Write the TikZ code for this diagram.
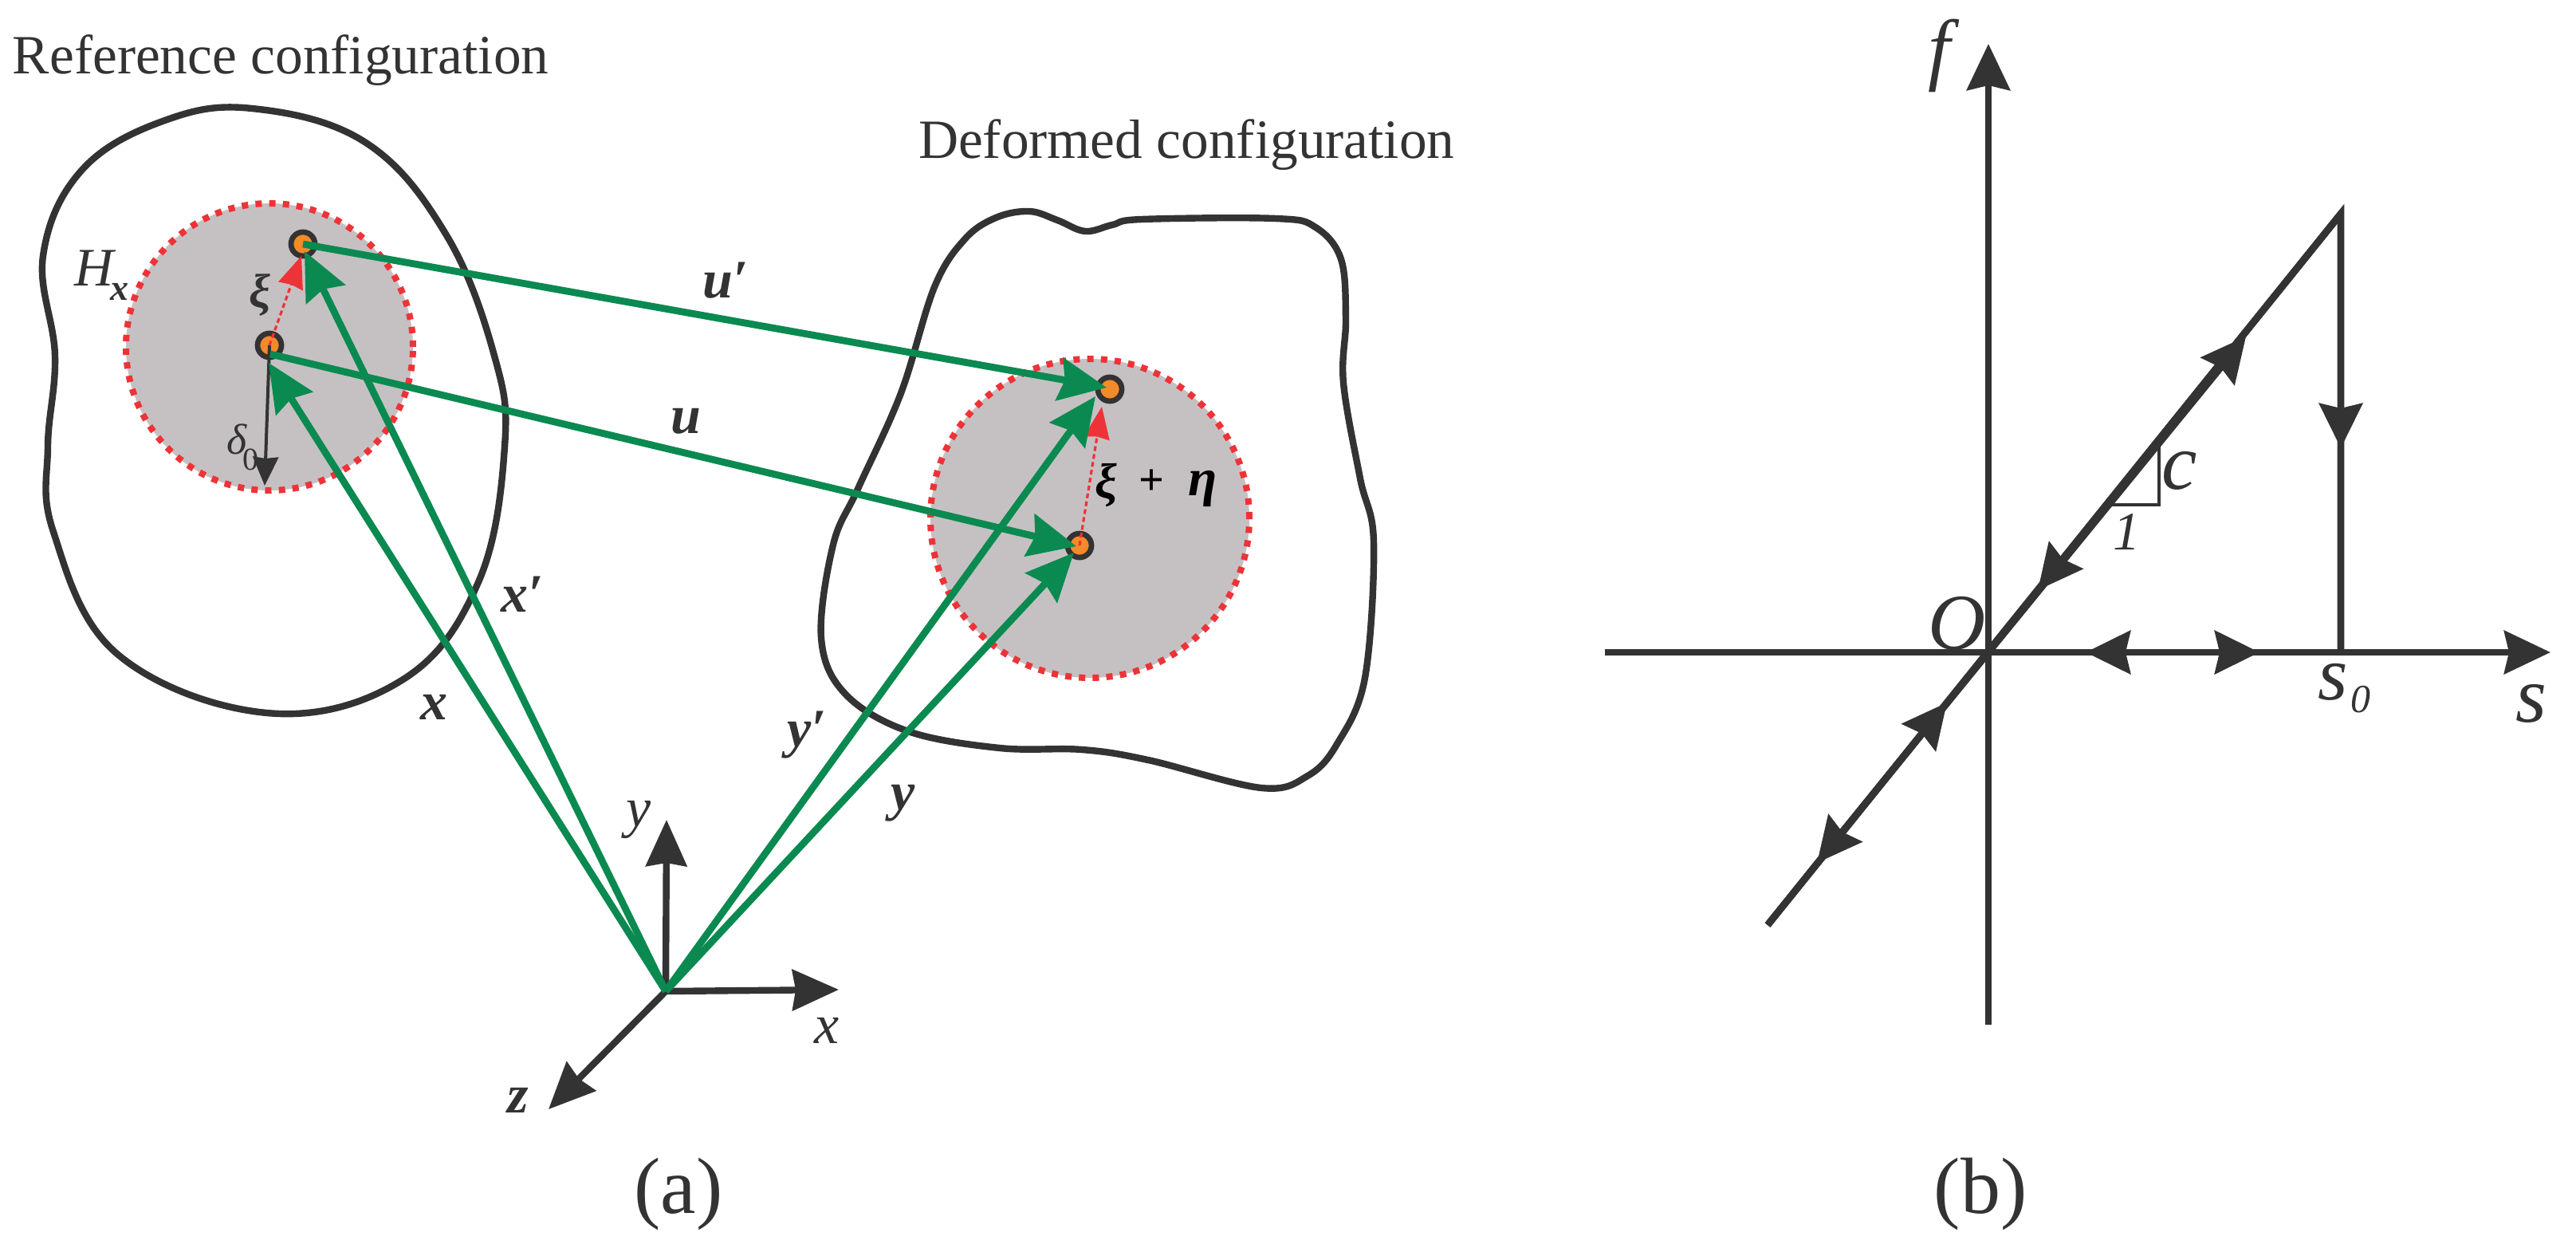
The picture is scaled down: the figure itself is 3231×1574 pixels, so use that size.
\documentclass[tikz,border=0pt]{standalone}
\usepackage{fontspec}
\setmainfont{Liberation Serif}
\usetikzlibrary{arrows.meta}
\definecolor{ink}{HTML}{333333}
\definecolor{grn}{HTML}{0A8A50}
\definecolor{rd}{HTML}{EE3338}
\definecolor{org}{HTML}{F58A2A}
\definecolor{gry}{HTML}{C5C1C3}
\newcommand{\fsz}[1]{\fontsize{#1}{#1}\selectfont}
\tikzset{
  x=0.5pt,y=-0.5pt,
  lab/.style={inner sep=0pt,outer sep=0pt,text=ink,font=\fsz{#1}},
  title/.style={lab=34.7,anchor=base west},
  bi/.style={inner sep=0pt,outer sep=0pt,text=ink,font=\fsz{#1}\bfseries\itshape},
  it/.style={inner sep=0pt,outer sep=0pt,text=ink,font=\fsz{#1}\itshape},
  blob/.style={draw=ink,line width=4.2pt},
  horizon/.style={draw=rd,fill=gry,line width=4pt,dash pattern=on 4pt off 4.6pt},
  ptdot/.style={circle,draw=ink,fill=org,line width=3.4pt,minimum size=15pt,inner sep=0pt},
  grarrow/.style={draw=grn,line width=4.4pt,-{Stealth[length=30pt,width=27pt,inset=3.5pt]}},
  rdarrow/.style={draw=rd,line width=1.6pt,densely dashed,-{Stealth[length=20pt,width=16pt,inset=1pt,fill=rd]}},
  axa/.style={draw=ink,line width=4.2pt,-{Stealth[length=29pt,width=25.5pt,inset=2pt]}},
  thinarrow/.style={draw=ink,line width=2pt,-{Stealth[length=18pt,width=16pt,inset=1pt]}},
  axb/.style={draw=ink,line width=4.4pt},
  axbtip/.style={axb,-{Stealth[length=29pt,width=27pt,inset=3pt]}},
  midtip/.style={axb,-{Stealth[length=28pt,width=27pt,inset=3pt]}},
}
\begin{document}
\begin{tikzpicture}
\useasboundingbox (0,0) rectangle (3231,1574);
% ---------- panel (a): bodies
\draw[blob] plot[smooth cycle,tension=0.65] coordinates {
 (316,136)(459,179)(560,295)(620,446)(633,560)(600,730)(504,853)(335,894)(147,820)(67,667)(60,560)(69,446)(54,321)(102,214)(204,152)};
\draw[blob] plot[smooth cycle,tension=0.6] coordinates {
 (1291,265)(1326,276)(1361,290)(1395,282)(1432,275)(1600,274)(1650,285)(1682,325)(1688,400)(1685,480)
 (1706,600)(1723,680)(1712,850)(1677,933)(1640,973)(1582,988)(1440,953)(1357,940)(1254,938)(1139,917)
 (1060,870)(1030,800)(1045,683)(1076,613)(1130,493)(1172,360)(1210,300)(1249,273)};
\node[horizon,circle,minimum size=180pt,inner sep=0pt] (HL) at (338,435) {};
\node[horizon,circle,minimum size=200pt,inner sep=0pt] (HR) at (1367,650) {};
% points
\node[ptdot] (P) at (338,433) {};
\node[ptdot] (Pp) at (380,306) {};
\node[ptdot] (Q) at (1354,684) {};
\node[ptdot] (Qp) at (1392,488) {};
\coordinate (O) at (835,1243);
\coordinate (xtip) at (337,455);
\coordinate (xptip) at (382,315);
\coordinate (ytip) at (1347,693);
\coordinate (yptip) at (1374,497);
\coordinate (utip) at (1350,685);
\coordinate (uptip) at (1388,486);
\coordinate (ustart) at (339,444);
\coordinate (upstart) at (380,306);
\coordinate (d0tip) at (332,609);
\coordinate (xitip) at (378,321);
\coordinate (xiqtip) at (1382,510);
% inner thin arrows
\draw[thinarrow] (P.center) -- (d0tip);
\draw[rdarrow] (P.center) -- (xitip);
\draw[rdarrow] (Q.center) -- (xiqtip);
% coordinate axes
\coordinate (axy) at (836,1028);
\coordinate (axx) at (1052,1241);
\coordinate (axz) at (688,1391);
\draw[axa] (O) -- (axy);
\draw[axa] (O) -- (axx);
\draw[axa] (O) -- (axz);
% green vectors
\draw[grarrow] (upstart) -- (uptip);
\draw[grarrow] (ustart) -- (utip);
\draw[grarrow] (O) -- (xtip);
\draw[grarrow] (O) -- (xptip);
\draw[grarrow] (O) -- (ytip);
\draw[grarrow] (O) -- (yptip);
% labels (a)
\node[title] (t1) at (16,92) {Reference configuration};
\node[title] (t2) at (1152,198) {Deformed configuration};
\node[it=34] (Hlab) at (118,336) {H};
\node[bi=23] (Hsub) at (150,366) {x};
\node[bi=30] (xi1) at (326,370) {ξ};
\node[it=27] (dl) at (297,551) {δ};
\node[lab=20] (dl0) at (314,576) {0};
\node[bi=34] (lxp) at (655,745) {x′};
\node[bi=34] (lx) at (544,887) {x};
\node[bi=34] (lup) at (910,352) {u′};
\node[bi=34] (lu) at (860,528) {u};
\node[bi=34] (lyp) at (1012,922) {y′};
\node[bi=34] (ly) at (1133,1007) {y};
\node[bi=31,text=black] (xi2) at (1387,608) {ξ};
\node[lab=28,text=black,font=\fsz{28}\bfseries] (pl) at (1444,605) {+};
\node[bi=33,text=black] (eta) at (1509,613) {η};
\node[it=35] (axyl) at (801,1028) {y};
\node[it=35] (axxl) at (1037,1292) {x};
\node[bi=34] (axzl) at (650,1380) {z};
\node[lab=50] (capa) at (851,1497) {(a)};
% ---------- panel (b)
\coordinate (Ob) at (2494,818);
\coordinate (fb) at (2494,1285);
\coordinate (ft) at (2494,55);
\coordinate (sl) at (2013,818);
\coordinate (st) at (3199,818);
\coordinate (dlo) at (2217,1160);
\coordinate (dhi) at (2936,268);
\coordinate (s0) at (2936,818);
\draw[axbtip] (fb) -- (ft);
\draw[axbtip] (sl) -- (st);
\draw[axb,line join=miter] (dlo) -- (dhi) -- (s0);
\coordinate (m1) at (2817,422);
\coordinate (m2) at (2556,740);
\coordinate (m3) at (2442,881);
\coordinate (m4) at (2279,1082);
\coordinate (m5) at (2936,562);
\coordinate (m6) at (2616,818);
\coordinate (m7) at (2834,818);
\draw[midtip] (Ob) -- (m1);
\draw[midtip] (dhi) -- (m2);
\draw[midtip] (dlo) -- (m3);
\draw[midtip] (Ob) -- (m4);
\draw[midtip] (dhi) -- (m5);
\draw[midtip] (s0) -- (m6);
\draw[midtip] (Ob) -- (m7);
\coordinate (tr1) at (2708,560);
\coordinate (tr2) at (2708,633);
\coordinate (tr3) at (2648,633);
\draw[draw=ink,line width=1.8pt] (tr1) -- (tr2) -- (tr3);
\node[it=50] (lf) at (2432,70) {f};
\node[it=50] (lO) at (2455,782) {O};
\node[it=50] (lc) at (2734,590) {c};
\node[it=34] (l1) at (2667,667) {1};
\node[it=48] (ls0) at (2926,855) {s};
\node[it=25] (l0) at (2961,877) {0};
\node[it=50] (ls) at (3175,882) {s};
\node[lab=50] (capb) at (2484,1497) {(b)};
\end{tikzpicture}
\end{document}
